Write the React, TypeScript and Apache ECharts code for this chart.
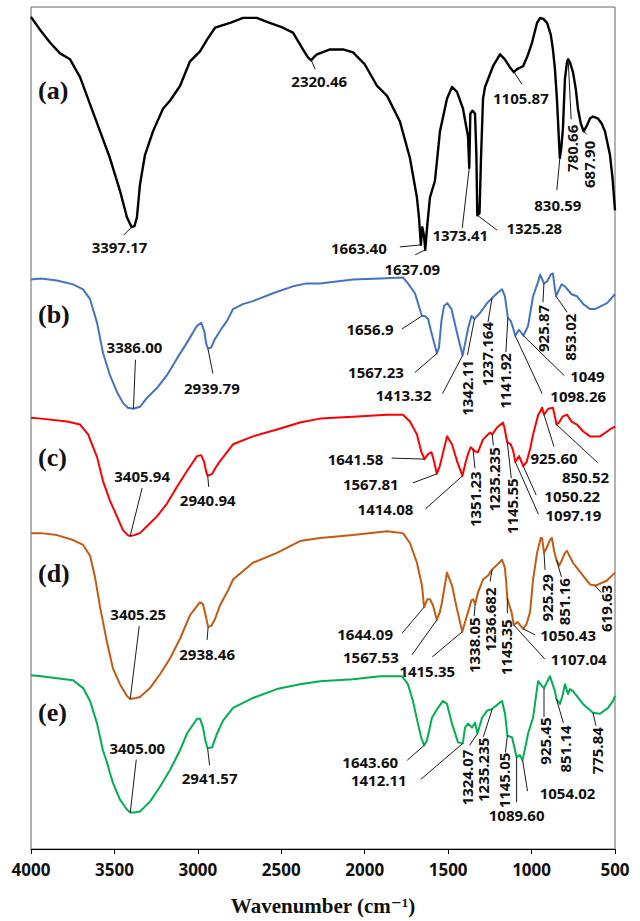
import React, { useEffect, useRef } from "react";
import * as echarts from "echarts";

type Pt = [number, number];

// FTIR spectra: [wavenumber (cm-1), offset transmittance (a.u.)]
const spectrumA: Pt[] = [
  [4000, 843], [3946, 830], [3886, 817], [3826, 806], [3766, 800], [3706, 782], [3658, 760],
  [3586, 727], [3527, 700], [3467, 667], [3425, 640], [3397.17, 630], [3380, 631], [3365, 640],
  [3347, 673], [3317, 703], [3269, 727], [3209, 750], [3167, 758], [3107, 773], [3047, 798],
  [2987, 808], [2945, 820], [2897, 832], [2807, 837], [2729, 842], [2646, 842], [2586, 838],
  [2490, 832], [2430, 827], [2370, 810], [2340, 802], [2320.46, 799], [2300, 803], [2286, 805],
  [2208, 810], [2130, 810], [2070, 807], [2000, 795], [1926, 773], [1866, 763], [1789, 737],
  [1729, 700], [1687, 660], [1675, 640], [1663.4, 612], [1655, 630], [1645, 622], [1637.09, 607],
  [1625, 632], [1609, 660], [1579, 677], [1549, 727], [1507, 760], [1477, 772], [1447, 767],
  [1411, 750], [1395, 735], [1381, 722], [1373.41, 690], [1367, 745], [1355, 748], [1339, 745],
  [1331, 705], [1325.28, 642], [1312, 644], [1303, 700], [1291, 760], [1279, 772], [1231, 793],
  [1189, 805], [1160, 800], [1130, 792], [1105.87, 787], [1087, 790], [1051, 793], [1025, 803],
  [997, 817], [967, 837], [949, 842], [930, 841], [907, 837], [885, 825], [872, 810], [860, 790],
  [848, 760], [838, 725], [830.59, 700], [822, 710], [812, 730], [800, 780], [788, 797],
  [780.66, 800], [770, 797], [752, 787], [735, 770], [722, 750], [705, 735], [687.9, 727],
  [668, 733], [650, 740], [632, 742], [615, 741], [602, 740], [580, 735], [560, 727], [530, 703],
  [515, 680], [500, 647],
];

const spectrumB: Pt[] = [
  [4000, 577], [3940, 578], [3844, 576], [3748, 572], [3688, 567], [3646, 557], [3604, 533],
  [3569, 503], [3527, 480], [3485, 463], [3449, 452], [3420, 447], [3386.0, 446], [3347, 448],
  [3305, 457], [3245, 467], [3185, 480], [3125, 497], [3065, 513], [3005, 530], [2980, 533],
  [2962, 525], [2950, 512], [2939.79, 507], [2920, 508], [2900, 516], [2885, 520], [2855, 528],
  [2825, 535], [2789, 547], [2730, 552], [2670, 555], [2550, 563], [2430, 570], [2346, 573],
  [2268, 573], [2070, 577], [1908, 578], [1771, 579], [1741, 573], [1699, 563], [1675, 550],
  [1663, 543], [1656.9, 540], [1640, 540], [1620, 537], [1600, 523], [1567.23, 502], [1555, 508],
  [1540, 535], [1525, 550], [1505, 553], [1480, 547], [1447, 523], [1413.32, 500], [1395, 515],
  [1381, 527], [1360, 540], [1342.11, 537], [1309, 543], [1267, 553], [1237.164, 558],
  [1207, 563], [1177, 567], [1160, 560], [1150, 548], [1141.92, 538], [1125, 535], [1111, 528],
  [1098.26, 520], [1075, 526], [1049, 520], [1021, 530], [991, 560], [960, 575], [949, 582],
  [925.87, 573], [907, 575], [885, 582], [872, 583], [862, 570], [853.02, 560], [840, 565],
  [820, 572], [800, 570], [760, 562], [728, 560], [690, 552], [650, 547], [620, 547], [608, 548],
  [548, 553], [500, 562],
];

const spectrumC: Pt[] = [
  [4000, 437], [3940, 436], [3784, 433], [3706, 430], [3658, 420], [3604, 397], [3569, 373],
  [3527, 353], [3485, 337], [3449, 323], [3420, 318], [3405.94, 317], [3380, 318], [3347, 320],
  [3305, 327], [3245, 337], [3185, 350], [3125, 367], [3065, 383], [3005, 398], [2980, 399],
  [2962, 392], [2950, 382], [2940.94, 378], [2915, 380], [2895, 386], [2867, 393], [2789, 410],
  [2670, 418], [2526, 425], [2388, 432], [2268, 436], [2070, 438], [1866, 440], [1771, 440],
  [1729, 433], [1687, 420], [1660, 402], [1641.58, 395], [1620, 400], [1600, 402], [1585, 393],
  [1567.81, 380], [1550, 388], [1537, 397], [1507, 418], [1477, 410], [1447, 393], [1414.08, 378],
  [1395, 392], [1381, 400], [1365, 407], [1351.23, 405], [1340, 403], [1321, 402], [1291, 415],
  [1249, 422], [1235.235, 420], [1207, 427], [1171, 432], [1160, 425], [1150, 415],
  [1145.55, 412], [1125, 410], [1111, 404], [1097.19, 392], [1075, 398], [1050.22, 388],
  [1030, 392], [1009, 405], [991, 420], [960, 440], [949, 443], [937, 447], [925.6, 440],
  [900, 446], [872, 447], [860, 438], [850.52, 430], [835, 432], [815, 438], [788, 440],
  [760, 433], [728, 430], [690, 423], [650, 418], [590, 418], [530, 425], [500, 428],
];

const spectrumD: Pt[] = [
  [4000, 320], [3940, 320], [3844, 318], [3748, 313], [3688, 308], [3646, 297], [3616, 275],
  [3586, 245], [3545, 210], [3509, 183], [3467, 167], [3425, 155], [3405.25, 152], [3370, 153],
  [3347, 154], [3287, 163], [3227, 177], [3167, 193], [3107, 213], [3047, 237], [2987, 250],
  [2969, 248], [2955, 238], [2945, 230], [2938.46, 225], [2920, 226], [2897, 233], [2867, 247],
  [2825, 260], [2789, 273], [2670, 290], [2526, 300], [2388, 312], [2268, 315], [2070, 318],
  [1866, 322], [1771, 320], [1729, 310], [1687, 290], [1657, 267], [1644.09, 245], [1625, 253],
  [1609, 253], [1591, 247], [1567.53, 232], [1550, 240], [1537, 250], [1507, 280], [1477, 267],
  [1447, 243], [1415.35, 220], [1395, 232], [1381, 240], [1360, 252], [1351, 253],
  [1338.05, 248], [1321, 260], [1291, 273], [1261, 277], [1236.682, 283], [1200, 289],
  [1177, 293], [1160, 285], [1152, 270], [1145.35, 254], [1130, 245], [1120, 240],
  [1107.04, 227], [1085, 230], [1075, 228], [1050.43, 223], [1030, 228], [1009, 240], [991, 273],
  [967, 300], [945, 315], [937, 315], [925.29, 300], [910, 305], [890, 313], [878, 315],
  [865, 302], [851.16, 293], [835, 287], [820, 292], [800, 300], [788, 302], [770, 296],
  [752, 290], [720, 283], [692, 277], [650, 268], [619.63, 267], [600, 268], [548, 272], [500, 280],
];

const spectrumE: Pt[] = [
  [4000, 176], [3940, 175], [3844, 173], [3748, 171], [3688, 163], [3646, 150], [3604, 127],
  [3569, 100], [3545, 88], [3527, 77], [3509, 67], [3467, 50], [3425, 40], [3405.0, 37],
  [3380, 37], [3347, 38], [3287, 48], [3227, 63], [3167, 80], [3107, 100], [3065, 117],
  [3005, 132], [2987, 132], [2969, 123], [2955, 110], [2941.57, 102], [2915, 103], [2900, 110],
  [2885, 117], [2849, 130], [2789, 143], [2670, 153], [2526, 162], [2388, 167], [2268, 170],
  [2070, 172], [1908, 175], [1777, 175], [1741, 167], [1711, 150], [1681, 127], [1660, 112],
  [1643.6, 105], [1627, 110], [1597, 133], [1561, 143], [1531, 150], [1507, 147], [1477, 127],
  [1441, 108], [1412.11, 107], [1399, 123], [1381, 127], [1357, 123], [1339, 128],
  [1324.07, 117], [1297, 133], [1267, 140], [1235.235, 142], [1200, 147], [1177, 150],
  [1159, 137], [1145.05, 115], [1117, 113], [1099, 100], [1089.6, 93], [1070, 95],
  [1054.02, 90], [1035, 105], [1021, 117], [991, 133], [961, 170], [937, 165], [925.45, 163],
  [890, 175], [860, 160], [851.14, 152], [830, 147], [815, 155], [800, 167], [782, 157],
  [770, 162], [752, 160], [720, 153], [692, 147], [660, 142], [632, 138], [590, 137],
  [542, 143], [512, 150], [500, 155],
];

const xTicks = { min: 500, max: 4000, step: 500 };

// Peak labels: [text, wavenumber of the marked point, leader end dx, dy, label dx, dy, vertical]
type Ann = [string, number, number, number, number, number, number];

const peaksA: Ann[] = [
  ["3397.17", 3397.17, -8, 8, -12, 20, 0],
  ["2320.46", 2320.46, 4, 9, 8, 21, 0],
  ["1663.40", 1663.4, -21, 2, -62, 3, 0],
  ["1637.09", 1637.09, -10, 5, -13, 19, 0],
  ["1373.41", 1373.41, -7, 60, -9, 67, 0],
  ["1325.28", 1325.28, 20, 15, 57, 13, 0],
  ["1105.87", 1105.87, 8, 12, 7, 26, 0],
  ["830.59", 830.59, -3, 32, -2, 47, 0],
  ["780.66", 780.66, 3, 60, 4, 89, 1],
  ["687.90", 687.9, 3, 3, 5, 33, 1],
];

const peaksB: Ann[] = [
  ["3386.00", 3386.0, 2, -49, 1, -62, 0],
  ["2939.79", 2939.79, 5, 25, 4, 39, 0],
  ["1656.9", 1656.9, -20, 13, -52, 13, 0],
  ["1567.23", 1567.23, -22, 19, -61, 19, 0],
  ["1413.32", 1413.32, -20, 38, -59, 40, 0],
  ["1342.11", 1342.11, -7, 36, -7, 69, 1],
  ["1237.164", 1237.164, -4, 24, -5, 56, 1],
  ["1141.92", 1141.92, -2, 34, -3, 63, 1],
  ["925.87", 925.87, -1, 19, -1, 45, 1],
  ["853.02", 853.02, 11, 16, 14, 41, 1],
  ["1049", 1049, 41, 40, 64, 40, 0],
  ["1098.26", 1098.26, 27, 58, 63, 60, 0],
];

const peaksC: Ann[] = [
  ["3405.94", 3405.94, 12, -48, 12, -60, 0],
  ["2940.94", 2940.94, 1, 11, 0, 24, 0],
  ["1641.58", 1641.58, -33, -1, -69, 0, 0],
  ["1567.81", 1567.81, -24, 9, -66, 10, 0],
  ["1414.08", 1414.08, -37, 33, -77, 33, 0],
  ["1351.23", 1351.23, 2, 19, 2, 50, 1],
  ["1235.235", 1235.235, 1, 11, 2, 45, 1],
  ["1145.55", 1145.55, 4, 36, 5, 64, 1],
  ["925.60", 925.6, 10, 32, 10, 43, 0],
  ["850.52", 850.52, 41, 38, 29, 52, 0],
  ["1050.22", 1050.22, 13, 29, 49, 30, 0],
  ["1097.19", 1097.19, 23, 52, 58, 53, 0],
];

const peaksD: Ann[] = [
  ["3405.25", 3405.25, 9, -73, 8, -85, 0],
  ["2938.46", 2938.46, -1, 13, -1, 27, 0],
  ["1644.09", 1644.09, -22, 26, -59, 27, 0],
  ["1567.53", 1567.53, -25, 35, -66, 37, 0],
  ["1415.35", 1415.35, -30, 25, -35, 39, 0],
  ["1338.05", 1338.05, -1, 12, -1, 41, 1],
  ["1236.682", 1236.682, -2, 12, -2, 50, 1],
  ["1145.35", 1145.35, 0, 15, -1, 49, 1],
  ["925.29", 925.29, 1, 17, 3, 45, 1],
  ["851.16", 851.16, 5, 17, 8, 42, 1],
  ["619.63", 619.63, 6, 7, 11, 23, 1],
  ["1050.43", 1050.43, 12, 6, 45, 6, 0],
  ["1107.04", 1107.04, 31, 34, 65, 34, 0],
];

const peaksE: Ann[] = [
  ["3405.00", 3405.0, 6, -53, 7, -64, 0],
  ["2941.57", 2941.57, 2, 17, 2, 30, 0],
  ["1643.60", 1643.6, -17, 15, -54, 17, 0],
  ["1412.11", 1412.11, -42, 36, -84, 37, 0],
  ["1324.07", 1324.07, -8, 12, -10, 44, 1],
  ["1235.235", 1235.235, -9, 28, -9, 61, 1],
  ["1145.05", 1145.05, -2, 17, -3, 45, 1],
  ["1089.60", 1089.6, 0, 45, 0, 58, 0],
  ["1054.02", 1054.02, 5, 31, 45, 33, 0],
  ["925.45", 925.45, 0, 29, 1, 53, 1],
  ["851.14", 851.14, 7, 24, 9, 50, 1],
  ["775.84", 632, 3, 13, 4, 38, 1],
];

const SPECTRA = [
  { tag: "(a)", data: spectrumA, peaks: peaksA, color: "#000000", width: 2.4, tagY: 90 },
  { tag: "(b)", data: spectrumB, peaks: peaksB, color: "#4472C4", width: 2, tagY: 314 },
  { tag: "(c)", data: spectrumC, peaks: peaksC, color: "#FF0000", width: 2, tagY: 457 },
  { tag: "(d)", data: spectrumD, peaks: peaksD, color: "#C55A11", width: 2, tagY: 573 },
  { tag: "(e)", data: spectrumE, peaks: peaksE, color: "#00B050", width: 2, tagY: 712 },
];

// value of a spectrum at a given wavenumber (data sorted by decreasing wavenumber)
function valueAt(data: Pt[], wn: number): number {
  for (let i = 0; i < data.length - 1; i++) {
    const [x0, y0] = data[i];
    const [x1, y1] = data[i + 1];
    if (wn <= x0 && wn >= x1) {
      const t = x0 === x1 ? 0 : (x0 - wn) / (x0 - x1);
      return y0 + (y1 - y0) * t;
    }
  }
  return data[data.length - 1][1];
}

const LABEL_FONT = '"Open Sans", "DejaVu Sans", sans-serif';
const SERIF_FONT = '"Liberation Serif", "DejaVu Serif", serif';

export default function App() {
  const ref = useRef<HTMLDivElement>(null);

  useEffect(() => {
    if (!ref.current) return;
    const chart = echarts.init(ref.current, undefined, { renderer: "svg" });

    const annotations = SPECTRA.flatMap((s) => s.peaks);
    const annotationData = SPECTRA.flatMap((s) =>
      s.peaks.map((p) => [p[1], valueAt(s.data, p[1])])
    );

    const lineSeries = SPECTRA.map((s) => ({
      type: "line",
      name: s.tag,
      data: s.data,
      showSymbol: false,
      symbol: "none",
      silent: true,
      lineStyle: { color: s.color, width: s.width, join: "round" },
      z: 2,
    }));

    const annotationSeries = {
      type: "custom",
      coordinateSystem: "cartesian2d",
      data: annotationData,
      silent: true,
      z: 5,
      renderItem: (params: any, api: any) => {
        const a = annotations[params.dataIndex];
        const p = api.coord([api.value(0), api.value(1)]);
        return {
          type: "group",
          children: [
            {
              type: "line",
              shape: { x1: p[0], y1: p[1], x2: p[0] + a[2], y2: p[1] + a[3] },
              style: { stroke: "#1a1a1a", lineWidth: 1 },
            },
            {
              type: "text",
              x: p[0] + a[4],
              y: p[1] + a[5],
              rotation: a[6] ? Math.PI / 2 : 0,
              style: {
                text: a[0],
                fontFamily: LABEL_FONT,
                fontWeight: "bold",
                fontSize: 15,
                fill: "#111111",
                align: "center",
                verticalAlign: "middle",
              },
            },
          ],
        };
      },
    };

    chart.setOption({
      animation: false,
      backgroundColor: "#ffffff",
      grid: {
        left: 31,
        right: 25,
        top: 7,
        bottom: 61,
        show: true,
        borderColor: "#666666",
        borderWidth: 1,
      },
      xAxis: {
        type: "value",
        min: xTicks.min,
        max: xTicks.max,
        interval: xTicks.step,
        inverse: true,
        axisLine: { show: true, lineStyle: { color: "#000000", width: 1 } },
        axisTick: { show: true, inside: false, length: 5, lineStyle: { color: "#000000" } },
        axisLabel: {
          color: "#111111",
          fontFamily: LABEL_FONT,
          fontWeight: "bold",
          fontSize: 17,
          margin: 12,
          formatter: (v: number) => String(v),
        },
        splitLine: { show: false },
        name: "Wavenumber (cm\u207B\u00B9)",
        nameLocation: "middle",
        nameGap: 46,
        nameTextStyle: {
          fontFamily: SERIF_FONT,
          fontWeight: "bold",
          fontSize: 21,
          color: "#111111",
        },
      },
      yAxis: { type: "value", min: 0, max: 853, show: false },
      graphic: SPECTRA.map((s) => ({
        type: "text",
        x: 38,
        y: s.tagY,
        silent: true,
        style: {
          text: s.tag,
          fontFamily: SERIF_FONT,
          fontWeight: "bold",
          fontSize: 26,
          fill: "#111111",
          verticalAlign: "middle",
        },
      })),
      series: [...lineSeries, annotationSeries],
    });

    return () => chart.dispose();
  }, []);

  return (
    <div
      ref={ref}
      style={{ position: "absolute", left: 0, top: 0, width: 640, height: 921 }}
    />
  );
}
